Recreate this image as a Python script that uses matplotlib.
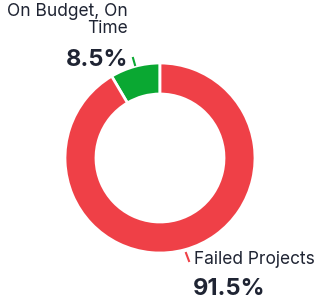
import matplotlib
matplotlib.use('Agg')
import matplotlib.pyplot as plt

LABELS = ['On Budget, On\nTime', 'Failed Projects']
VALUES = [8.5, 91.5]
COLORS = ['#0aa832', '#ef4047']
TEXT_COLOR = '#1f2433'

W, H = 317, 302

fig = plt.figure(figsize=(W / 100, H / 100), dpi=100)
ax = fig.add_axes([0, 0, 1, 1])
plt.rcParams['font.family'] = ['Inter', 'DejaVu Sans']

cx, cy = 160, H - 158
wedges, _ = ax.pie(VALUES, colors=COLORS, startangle=90, counterclock=True,
                   center=(cx, cy), radius=95,
                   wedgeprops=dict(width=31, edgecolor='white', linewidth=2))
ax.set_xlim(0, W)
ax.set_ylim(0, H)
ax.set_aspect('equal')
ax.axis('off')

# leader ticks
ax.plot([133, 135], [H - 58, H - 65], color=COLORS[0], lw=1.5)
ax.plot([186, 189], [H - 253, H - 261], color=COLORS[1], lw=1.5)

ax.text(128, H - 3, LABELS[0], ha='right', va='top', fontsize=12.5,
        color=TEXT_COLOR, linespacing=1.0)
ax.text(128, H - 66, f'{VALUES[0]}%', ha='right', va='baseline', fontsize=17,
        fontweight='bold', color=TEXT_COLOR)
ax.text(194, H - 251, LABELS[1], ha='left', va='top', fontsize=12.5,
        color=TEXT_COLOR)
ax.text(193, H - 295, f'{VALUES[1]}%', ha='left', va='baseline', fontsize=17,
        fontweight='bold', color=TEXT_COLOR)

fig.savefig('out.png', dpi=100)
